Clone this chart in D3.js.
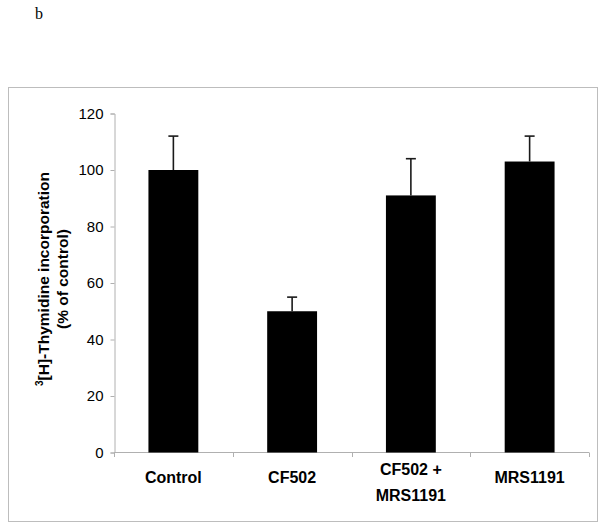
<!DOCTYPE html>
<html><head><meta charset="utf-8">
<script src="https://cdn.jsdelivr.net/npm/d3@7"></script>
<style>body{margin:0;background:#fff}svg{display:block}</style>
</head><body>
<script>
const categories = [["Control"], ["CF502"], ["CF502 +", "MRS1191"], ["MRS1191"]];
const values = [100, 50, 91, 103];
const errors = [12, 5, 13, 9];
const yTicks = [0, 20, 40, 60, 80, 100, 120];

const W = 601, H = 523;
const svg = d3.select("body").append("svg").attr("width", W).attr("height", H);

svg.append("text").attr("x", 35).attr("y", 19)
  .attr("font-family", "Liberation Serif, Times New Roman, serif").attr("font-size", 16).text("b");

svg.append("rect").attr("x", 8.5).attr("y", 87.5).attr("width", 589).attr("height", 434)
  .attr("fill", "none").attr("stroke", "#bdbdbd").attr("stroke-width", 1);

const x = d3.scaleBand().domain(d3.range(categories.length)).range([114, 589]).paddingInner(0.58).paddingOuter(0.29);
const y = d3.scaleLinear().domain([0, 120]).range([452.5, 113.5]);

// y axis
const ya = svg.append("g").attr("transform", "translate(114.5,0)")
  .call(d3.axisLeft(y).tickValues(yTicks).tickSize(4).tickPadding(7));
ya.selectAll("path,line").attr("stroke", "#b0b0b0");
ya.selectAll("text").attr("font-family", "Liberation Sans, Arial, sans-serif").attr("font-size", 15).attr("fill", "#000");

// x axis baseline + ticks at category boundaries
const xa = svg.append("g");
xa.append("line").attr("x1", 114).attr("x2", 589).attr("y1", 452.5).attr("y2", 452.5).attr("stroke", "#b0b0b0");
const step = x.step();
const bounds = d3.range(categories.length + 1).map(i => 114 + i * (475 / categories.length));
xa.selectAll("line.t").data(bounds).enter().append("line").attr("class", "t")
  .attr("x1", d => Math.round(d) + 0.5).attr("x2", d => Math.round(d) + 0.5)
  .attr("y1", 452.5).attr("y2", 457).attr("stroke", "#b0b0b0");

// bars
svg.selectAll("rect.bar").data(values).enter().append("rect").attr("class", "bar")
  .attr("x", (d, i) => x(i)).attr("width", x.bandwidth())
  .attr("y", d => y(d)).attr("height", d => y(0) - y(d)).attr("fill", "#000");

// error bars
const eb = svg.append("g").attr("stroke", "#1a1a1a").attr("stroke-width", 1.6);
values.forEach((v, i) => {
  const cx = x(i) + x.bandwidth() / 2;
  eb.append("line").attr("x1", cx).attr("x2", cx).attr("y1", y(v)).attr("y2", y(v + errors[i]));
  eb.append("line").attr("x1", cx - 5).attr("x2", cx + 5).attr("y1", y(v + errors[i])).attr("y2", y(v + errors[i]));
});

// category labels
categories.forEach((lines, i) => {
  const cx = x(i) + x.bandwidth() / 2;
  const t = svg.append("text").attr("text-anchor", "middle")
    .attr("font-family", "Liberation Sans, Arial, sans-serif").attr("font-weight", "bold").attr("font-size", 16);
  const base = lines.length === 1 ? 483 : 475;
  lines.forEach((s, j) => t.append("tspan").attr("x", cx).attr("y", base + j * 25.5).text(s));
});

// y label
const yl = svg.append("text").attr("transform", "translate(0,279) rotate(-90)").attr("text-anchor", "middle")
  .attr("font-family", "Liberation Sans, Arial, sans-serif").attr("font-weight", "bold").attr("font-size", 15.5);
const l1 = yl.append("tspan").attr("x", 0).attr("y", 49);
l1.append("tspan").attr("font-size", 10).attr("dy", -6).text("3");
l1.append("tspan").attr("dy", 6).text("[H]-Thymidine incorporation");
yl.append("tspan").attr("x", 0).attr("y", 68).text("(% of control)");
</script>
</body></html>
